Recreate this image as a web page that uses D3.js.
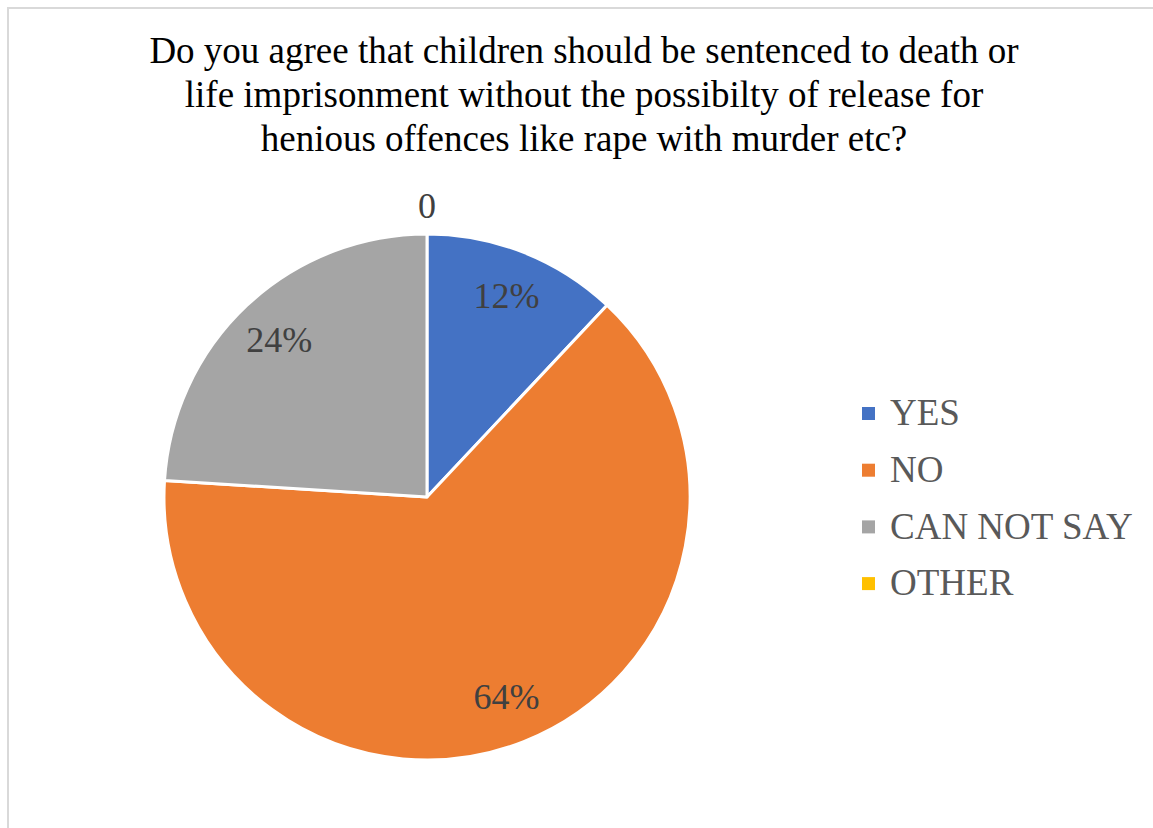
<!DOCTYPE html>
<html>
<head>
<meta charset="utf-8">
<script src="https://cdn.jsdelivr.net/npm/d3@7"></script>
<style>
  html, body { margin: 0; padding: 0; background: #fff; }
  svg { display: block; }
</style>
</head>
<body>
<svg id="chart" width="1153" height="828"></svg>
<script>
// Survey answers
const categories = ["YES", "NO", "CAN NOT SAY", "OTHER"];
const values = [12, 64, 24, 0];
const valueLabels = ["12%", "64%", "24%", "0"];
const colors = ["#4472C4", "#ED7D31", "#A5A5A5", "#FFC000"];
const titleLines = [
  "Do you agree that children should be sentenced to death or",
  "life imprisonment without the possibilty of release for",
  "henious offences like rape with murder etc?"
];

const svg = d3.select("#chart");
const font = "'Liberation Serif', 'Times New Roman', serif";

// chart frame
svg.append("rect")
  .attr("x", 8).attr("y", 8)
  .attr("width", 1160).attr("height", 840)
  .attr("fill", "#fff")
  .attr("stroke", "#d9d9d9").attr("stroke-width", 2);

// title
svg.append("g").selectAll("text")
  .data(titleLines)
  .join("text")
  .attr("x", 584)
  .attr("y", (d, i) => 63 + i * 44)
  .attr("text-anchor", "middle")
  .attr("font-family", font)
  .attr("font-size", 37)
  .attr("fill", "#000")
  .text(d => d);

// pie
const cx = 427, cy = 497, R = 263;
const data = categories.map((c, i) => ({ cat: c, value: values[i], label: valueLabels[i], color: colors[i] }));
const pie = d3.pie().value(d => d.value).sort(null);
const arcs = pie(data);
const arc = d3.arc().innerRadius(0).outerRadius(R);
const labelArc = d3.arc().innerRadius(R * 0.82).outerRadius(R * 0.82);
const outerArc = d3.arc().innerRadius(R + 28).outerRadius(R + 28);

const g = svg.append("g").attr("transform", `translate(${cx},${cy})`);

g.selectAll("path")
  .data(arcs.filter(d => d.data.value > 0))
  .join("path")
  .attr("d", arc)
  .attr("fill", d => d.data.color)
  .attr("stroke", "#fff")
  .attr("stroke-width", 3)
  .attr("stroke-linejoin", "round");

g.selectAll("text.lbl")
  .data(arcs)
  .join("text")
  .attr("class", "lbl")
  .attr("transform", d => {
    const p = d.data.value > 0 ? labelArc.centroid(d) : outerArc.centroid(d);
    return `translate(${p[0]},${p[1]})`;
  })
  .attr("dy", "0.33em")
  .attr("text-anchor", "middle")
  .attr("font-family", font)
  .attr("font-size", 36)
  .attr("fill", "#404040")
  .text(d => d.data.label);

// legend
const legend = svg.append("g").attr("transform", "translate(862,413)");
const items = legend.selectAll("g")
  .data(data)
  .join("g")
  .attr("transform", (d, i) => `translate(0,${i * 56.7})`);
items.append("rect")
  .attr("x", 0).attr("y", -6)
  .attr("width", 13).attr("height", 13)
  .attr("fill", d => d.color);
items.append("text")
  .attr("x", 28)
  .attr("y", 0)
  .attr("dy", "0.33em")
  .attr("font-family", font)
  .attr("font-size", 37)
  .attr("fill", "#595959")
  .text(d => d.cat);
</script>
</body>
</html>
